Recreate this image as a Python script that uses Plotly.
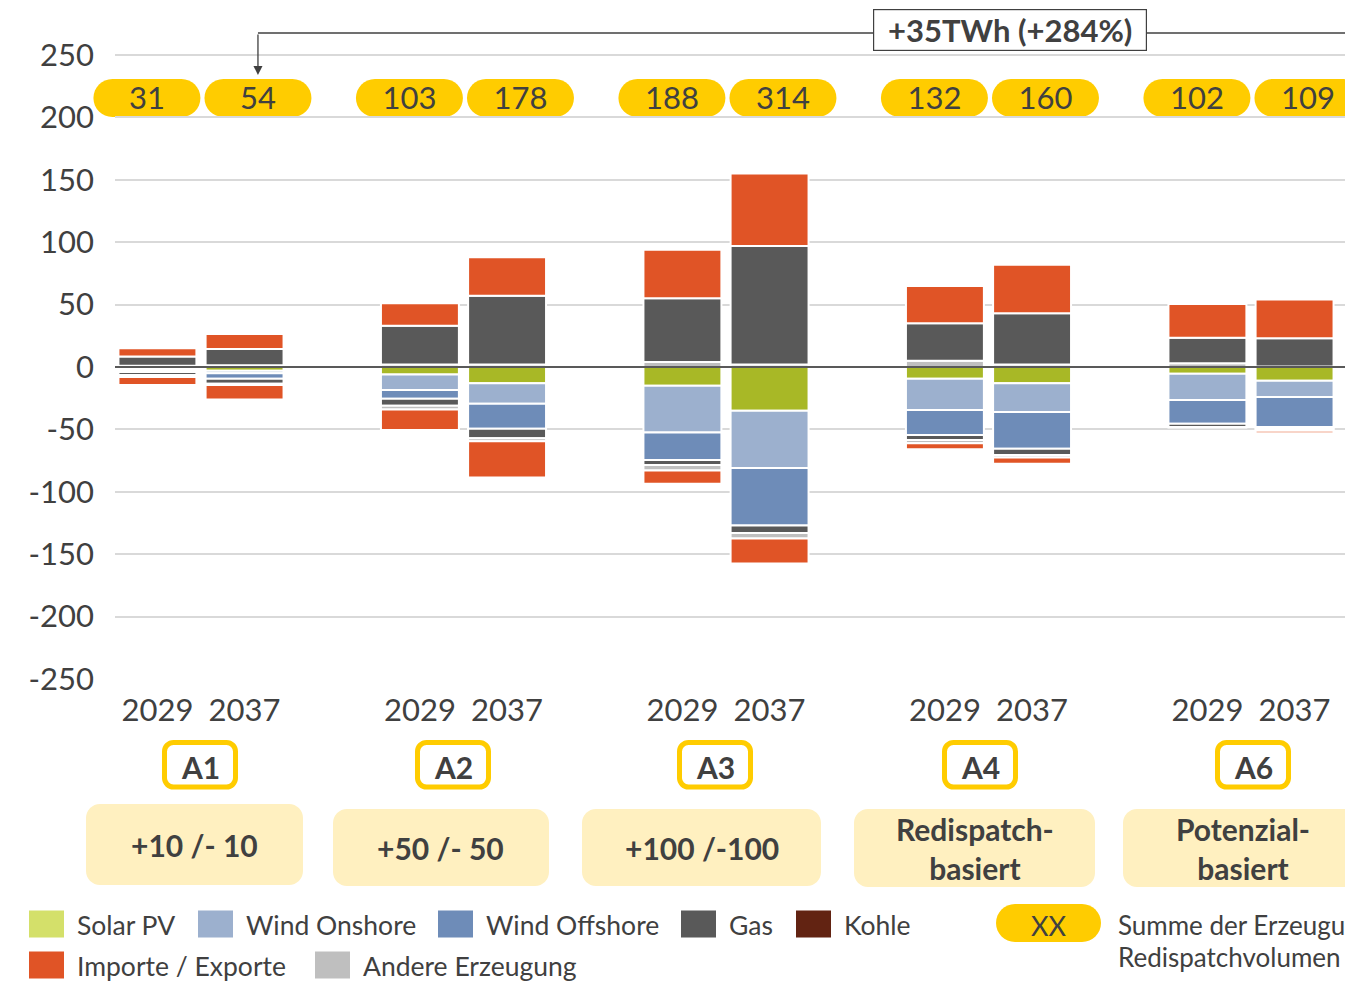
import plotly.graph_objects as go

# ---- data (TWh) ----
groups = ["A1", "A2", "A3", "A4", "A6"]
years = ["2029", "2037"]
scenario_text = ["+10 /- 10", "+50 /- 50", "+100 /-100", "Redispatch-<br>basiert", "Potenzial-<br>basiert"]

# order: A1-2029, A1-2037, A2-2029, A2-2037, ... A6-2037
andere_pos = [1, 1.5, 2, 2, 4, 2, 5, 2, 3, 0.5]
gas_pos = [7.5, 13, 31, 55, 51, 95, 30, 41, 20.5, 22.5]
importe_pos = [6.5, 12, 18, 31, 39, 58, 30, 39, 27, 31]

solar_neg = [-1, -3, -6, -13, -15, -35, -9.5, -13, -5.5, -11]
onshore_neg = [-1.5, -2, -12.5, -16.5, -37.5, -46, -25, -23, -21, -13]
offshore_neg = [-1.5, -4.5, -7, -20, -22, -46, -20, -29.5, -19, -24]
gas_neg = [-2.5, -4, -5.5, -7.5, -4, -6, -4, -5, -2.5, -1.5]
andere_neg = [-1.5, -1, -3, -2.5, -4.5, -4.5, -2.5, -2, -0.5, -1.5]
importe_neg = [-6.5, -11.5, -16.5, -29, -10.5, -20, -5, -5, 0, -2]

redispatch_sum = [31, 54, 103, 178, 188, 314, 132, 160, 102, 109]

# ---- colours ----
C_SOLAR = "#A8B826"
C_SOLAR_LEG = "#D4E06A"
C_ONSHORE = "#9CB0CE"
C_OFFSHORE = "#6E8CB8"
C_GAS = "#595959"
C_KOHLE = "#622312"
C_IMPORT = "#E05426"
C_ANDERE = "#BFBFBF"
C_YELLOW = "#FFCC00"
C_LIGHT = "#FFF0C0"
C_TEXT = "#404040"
FONT = "Lato"

# ---- geometry (page pixels) ----
W, H = 1345, 981
PLOT_L, PLOT_R, PLOT_B = 115, 1345, 679
ML = PLOT_L
MB = H - PLOT_B
PW = PLOT_R - PLOT_L
PH = PLOT_B
XMIN, XMAX = -0.3276, 4.3581
YMIN = -250
YMAX = YMIN + PLOT_B / 1.248

bar_off = [-0.166, 0.166]
pill_off = [-0.206, 0.217]
bar_x = [g + bar_off[j] for g in range(len(groups)) for j in range(2)]
pill_x = [g + pill_off[j] for g in range(len(groups)) for j in range(2)]
year_lbl = [years[j] for g in range(len(groups)) for j in range(2)]


def px_x(x):
    return PLOT_L + (x - XMIN) / (XMAX - XMIN) * PW


def px_y(y):
    return PLOT_B - (y - YMIN) / (YMAX - YMIN) * PH


def pap_x(px):
    return (px - PLOT_L) / PW


def pap_y(py):
    return (PLOT_B - py) / PH


def rrect(x0, y0, x1, y1, r):
    # rounded rectangle, pixel coords -> paper path
    k = 0.5523 * r

    def p(x, y):
        return f"{pap_x(x):.5f},{pap_y(y):.5f}"

    return (f"M{p(x0 + r, y0)} L{p(x1 - r, y0)} "
            f"C{p(x1 - r + k, y0)} {p(x1, y0 + r - k)} {p(x1, y0 + r)} "
            f"L{p(x1, y1 - r)} "
            f"C{p(x1, y1 - r + k)} {p(x1 - r + k, y1)} {p(x1 - r, y1)} "
            f"L{p(x0 + r, y1)} "
            f"C{p(x0 + r - k, y1)} {p(x0, y1 - r + k)} {p(x0, y1 - r)} "
            f"L{p(x0, y0 + r)} "
            f"C{p(x0, y0 + r - k)} {p(x0 + r - k, y0)} {p(x0 + r, y0)} Z")


def label(text, px, py, size, xanchor="center", **kw):
    return dict(xref="paper", yref="paper", x=pap_x(px), y=pap_y(py), text=text,
                showarrow=False, xanchor=xanchor, yanchor="middle",
                font=dict(family=FONT, size=size, color=C_TEXT), **kw)


fig = go.Figure()

series = [
    ("Solar PV", solar_neg, C_SOLAR),
    ("Wind Onshore", onshore_neg, C_ONSHORE),
    ("Wind Offshore", offshore_neg, C_OFFSHORE),
    ("Andere Erzeugung", andere_pos, C_ANDERE),
    ("Gas", gas_pos, C_GAS),
    ("Gas", gas_neg, C_GAS),
    ("Andere Erzeugung", andere_neg, C_ANDERE),
    ("Importe / Exporte", importe_pos, C_IMPORT),
    ("Importe / Exporte", importe_neg, C_IMPORT),
]
for name, vals, col in series:
    fig.add_trace(go.Bar(
        x=bar_x, y=vals, name=name, width=0.297,
        marker=dict(color=col, line=dict(color="white", width=2)),
        showlegend=False,
        hovertemplate=name + ": %{y}<extra></extra>",
    ))

# sum labels in yellow pills
PILL_Y = 215.5
shapes = []
for x in pill_x:
    cx, cy = px_x(x), px_y(PILL_Y)
    shapes.append(dict(type="path", xref="paper", yref="paper",
                       path=rrect(cx - 53.5, cy - 19, cx + 53.5, cy + 19, 19),
                       fillcolor=C_YELLOW, line=dict(width=0), layer="between"))
fig.add_trace(go.Scatter(
    x=pill_x, y=[PILL_Y - 2.5] * len(pill_x), mode="text",
    text=[str(v) for v in redispatch_sum],
    textfont=dict(family=FONT, size=31, color=C_TEXT),
    showlegend=False, cliponaxis=False, hoverinfo="skip",
))

# zero line on top of bars
shapes.append(dict(type="line", xref="paper", yref="y", x0=0, x1=1, y0=0, y1=0,
                   line=dict(color=C_GAS, width=2), layer="above"))

annotations = []

# scenario boxes
a_box_px = [200, 453, 715, 980, 1253]
light_boxes = [(86, 804, 303, 885), (333, 809, 549, 886), (582, 809, 821, 886),
               (854, 809, 1095, 887), (1123, 809, 1362, 887)]
for i, g in enumerate(groups):
    cx = a_box_px[i]
    shapes.append(dict(type="path", xref="paper", yref="paper",
                       path=rrect(cx - 35.5, 742.5, cx + 35.5, 787, 9),
                       fillcolor="white", line=dict(color=C_YELLOW, width=5)))
    annotations.append(label(f"<b>{g}</b>", cx, 767, 30))
    x0, y0, x1, y1 = light_boxes[i]
    shapes.append(dict(type="path", xref="paper", yref="paper",
                       path=rrect(x0, y0, x1, y1, 14),
                       fillcolor=C_LIGHT, line=dict(width=0)))
    annotations.append(label(f"<b>{scenario_text[i]}</b>", (x0 + x1) / 2, (y0 + y1) / 2, 30))

# change annotation: +35 TWh from A1 2029 to A1 2037
shapes.append(dict(type="line", xref="x", yref="paper", x0=pill_x[1], x1=XMAX,
                   y0=pap_y(33), y1=pap_y(33),
                   line=dict(color=C_TEXT, width=1.3)))
annotations.append(dict(x=pill_x[1], y=(367 - 75) / 1.248, xref="x", yref="y",
                        ax=0, ay=-42, text="", showarrow=True,
                        arrowhead=2, arrowsize=1.4, arrowwidth=1.3, arrowcolor=C_TEXT))
annotations.append(label("<b>+35TWh (+284%)</b>", 1009.5, 30, 31,
                         bgcolor="white", bordercolor=C_TEXT, borderwidth=1.2,
                         borderpad=2, width=268, height=36))

# legend (drawn manually)
legend_items = [
    ("Solar PV", C_SOLAR_LEG, 29, 924),
    ("Wind Onshore", C_ONSHORE, 198, 924),
    ("Wind Offshore", C_OFFSHORE, 438, 924),
    ("Gas", C_GAS, 681, 924),
    ("Kohle", C_KOHLE, 796, 924),
    ("Importe / Exporte", C_IMPORT, 29, 965),
    ("Andere Erzeugung", C_ANDERE, 315, 965),
]
for name, col, lx, ly in legend_items:
    shapes.append(dict(type="rect", xref="paper", yref="paper",
                       x0=pap_x(lx), x1=pap_x(lx + 35),
                       y0=pap_y(ly - 13.5), y1=pap_y(ly + 13.5),
                       fillcolor=col, line=dict(width=0)))
    annotations.append(label(name, lx + 46, ly + 1, 26.5, xanchor="left"))

shapes.append(dict(type="path", xref="paper", yref="paper",
                   path=rrect(996, 904, 1101, 942, 19),
                   fillcolor=C_YELLOW, line=dict(width=0)))
annotations.append(label("XX", 1048.5, 925, 27))
annotations.append(label("Summe der Erzeugung im", 1116, 925, 26, xanchor="left"))
annotations.append(label("Redispatchvolumen", 1116, 957, 26, xanchor="left"))

y_ticks = list(range(-250, 251, 50))
fig.update_layout(
    width=W, height=H,
    margin=dict(l=ML, r=0, t=0, b=MB, pad=0),
    barmode="relative",
    plot_bgcolor="white", paper_bgcolor="white",
    font=dict(family=FONT, color=C_TEXT),
    shapes=shapes,
    annotations=annotations,
    showlegend=False,
    xaxis=dict(range=[XMIN, XMAX], tickvals=bar_x, ticktext=year_lbl,
               showgrid=False, zeroline=False, showline=False, ticks="",
               tickfont=dict(family=FONT, size=31, color=C_TEXT),
               ticklabelstandoff=10),
    yaxis=dict(range=[YMIN, YMAX], tickvals=y_ticks, ticktext=[str(v) for v in y_ticks],
               showgrid=True, gridcolor="#D9D9D9", gridwidth=1.5,
               zeroline=False, showline=False, ticks="",
               tickfont=dict(family=FONT, size=31, color=C_TEXT),
               ticklabelstandoff=20),
)

# page margin 0 so the figure fills the window exactly
fig.write_html("out.html", config={"displayModeBar": False},
               post_script="document.body.style.margin='0';document.body.style.overflow='hidden';")
